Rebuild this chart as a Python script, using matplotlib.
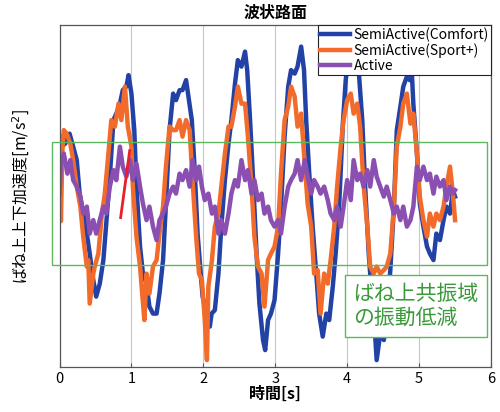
import matplotlib
matplotlib.use("Agg")
import matplotlib.pyplot as plt
from matplotlib.patches import Rectangle

plt.rcParams['font.family'] = ['Noto Sans CJK JP', 'DejaVu Sans']

# SemiActive(Comfort)
t_comfort = [0.0, 0.03, 0.08, 0.14, 0.19, 0.24, 0.28, 0.33, 0.38, 0.42, 0.47, 0.51, 0.56, 0.61, 0.65,
             0.70, 0.75, 0.79, 0.84, 0.88, 0.93, 0.96, 1.0, 1.04, 1.07, 1.12, 1.16, 1.21, 1.25, 1.30,
             1.35, 1.39, 1.44, 1.48, 1.53, 1.58, 1.62, 1.67, 1.71, 1.76, 1.80, 1.84, 1.88, 1.92, 1.96,
             1.99, 2.02, 2.07, 2.09, 2.115, 2.16, 2.21, 2.25, 2.30, 2.35, 2.39, 2.44, 2.48, 2.53, 2.58,
             2.61, 2.65, 2.69, 2.74, 2.78, 2.83, 2.86, 2.90, 2.94, 2.99, 3.04, 3.08, 3.13, 3.18, 3.22,
             3.27, 3.31, 3.36, 3.40, 3.43, 3.47, 3.52, 3.57, 3.61, 3.66, 3.71, 3.75, 3.80, 3.84, 3.89,
             3.94, 3.98, 4.02, 4.07, 4.12, 4.16, 4.21, 4.25, 4.30, 4.35, 4.39, 4.41, 4.46, 4.51, 4.55,
             4.60, 4.65, 4.69, 4.74, 4.78, 4.83, 4.87, 4.90, 4.92, 4.97, 5.01, 5.06, 5.11, 5.15, 5.20,
             5.24, 5.29, 5.34, 5.38, 5.43, 5.47, 5.50]
comfort = [0.65, 0.99, 1.05, 1.25, 0.99, 0.72, 0.05, -0.35, -0.75, -1.15, -1.68, -2.01, -1.75, -1.28, -0.55,
           0.39, 1.52, 1.65, 1.85, 2.12, 2.19, 2.42, 2.05, 1.32, 0.19, -1.01, -1.55, -1.75, -2.21, -2.35,
           -2.35, -1.95, -1.28, -0.15, 1.32, 2.05, 1.92, 2.12, 2.12, 2.32, 1.92, 1.52, 0.52, -0.75, -1.48,
           -2.01, -2.2, -2.5, -2.61, -2.35, -2.28, -1.55, -0.61, 0.32, 1.05, 1.52, 2.25, 2.72, 2.59, 2.89,
           2.52, 1.52, 0.39, -1.15, -2.15, -2.88, -3.08, -2.48, -2.35, -2.08, -1.15, -0.21, 1.19, 2.19, 2.52,
           2.45, 2.59, 2.99, 2.52, 1.52, 0.52, -0.61, -1.55, -2.35, -2.81, -2.35, -2.48, -1.81, -1.15, -0.15,
           1.45, 2.32, 2.85, 3.1, 2.8, 2.52, 1.52, 0.19, -1.15, -2.15, -2.81, -3.28, -2.75, -2.88, -2.35,
           -1.48, -0.21, 1.32, 1.79, 2.19, 2.39, 2.32, 2.45, 1.85, 0.85, -0.15, -0.61, -1.01, -1.15, -1.28,
           -0.75, -0.88, -0.48, -0.21, -0.35, 0.12, -0.01]

# SemiActive(Sport+)
t_sport = [0.0, 0.02, 0.04, 0.06, 0.10, 0.15, 0.19, 0.24, 0.29, 0.33, 0.38, 0.40, 0.42, 0.47, 0.49,
           0.54, 0.59, 0.63, 0.68, 0.72, 0.77, 0.82, 0.86, 0.91, 0.95, 1.0, 1.02, 1.07, 1.12, 1.15,
           1.18, 1.21, 1.25, 1.30, 1.35, 1.39, 1.44, 1.48, 1.53, 1.58, 1.62, 1.67, 1.71, 1.76, 1.81,
           1.85, 1.90, 1.94, 1.98, 2.02, 2.05, 2.07, 2.12, 2.16, 2.21, 2.25, 2.30, 2.35, 2.39, 2.44,
           2.48, 2.53, 2.58, 2.62, 2.67, 2.71, 2.76, 2.81, 2.85, 2.90, 2.94, 2.99, 3.04, 3.08, 3.13,
           3.18, 3.22, 3.27, 3.31, 3.36, 3.41, 3.45, 3.50, 3.54, 3.59, 3.63, 3.68, 3.73, 3.77, 3.82,
           3.86, 3.91, 3.95, 4.0, 4.05, 4.09, 4.14, 4.18, 4.23, 4.28, 4.32, 4.37, 4.41, 4.46, 4.51,
           4.55, 4.60, 4.65, 4.69, 4.74, 4.78, 4.83, 4.88, 4.92, 4.97, 5.01, 5.06, 5.11, 5.15, 5.20,
           5.24, 5.29, 5.34, 5.38, 5.43, 5.47, 5.50]
sport = [1.2, -0.5, 0.9, 1.32, 1.25, 1.05, 0.72, 0.19, -0.21, -0.81, -1.41, -1.28, -2.15, -1.55, -1.41,
         -1.15, -0.35, 0.05, 0.85, 1.52, 1.39, 1.85, 1.52, 2.19, 1.39, 0.99, 0.19, -0.81, -1.41, -1.95,
         -2.48, -1.55, -1.95, -1.41, -1.28, -0.75, -0.21, 0.59, 1.39, 1.32, 1.32, 1.52, 1.19, 1.52, 1.32,
         0.32, -0.81, -1.55, -1.68, -2.48, -3.28, -1.81, -1.28, -0.61, -0.35, 0.19, 0.85, 1.39, 1.39, 1.79,
         2.19, 1.85, 1.85, 1.19, 0.19, -0.81, -1.41, -1.55, -2.21, -1.28, -1.15, -1.01, -0.61, 0.45, 1.52,
         1.79, 2.19, 1.99, 1.39, 1.65, 0.65, -0.15, -0.61, -1.55, -1.48, -2.35, -1.55, -1.75, -1.28, -0.61,
         0.19, 0.99, 1.52, 1.92, 2.05, 1.65, 1.85, 1.39, 0.19, -0.61, -1.41, -1.55, -1.41, -1.55, -1.48,
         -1.41, -1.15, -0.21, 0.99, 1.39, 1.85, 2.05, 1.45, 1.65, 0.85, -0.01, -0.48, -0.81, -0.35, -0.61,
         -0.35, -0.48, -0.21, 0.19, 0.59, 0.05, -0.48]

# Active
t_active = [0.0, 0.02, 0.06, 0.11, 0.15, 0.19, 0.24, 0.29, 0.33, 0.38, 0.42, 0.47, 0.51, 0.56, 0.61,
            0.65, 0.70, 0.75, 0.79, 0.84, 0.88, 0.93, 0.98, 1.02, 1.07, 1.12, 1.16, 1.21, 1.25, 1.30,
            1.35, 1.39, 1.44, 1.48, 1.53, 1.58, 1.62, 1.67, 1.71, 1.76, 1.81, 1.85, 1.90, 1.94, 1.98,
            2.02, 2.07, 2.12, 2.16, 2.21, 2.25, 2.30, 2.35, 2.39, 2.44, 2.48, 2.53, 2.58, 2.62, 2.67,
            2.71, 2.76, 2.81, 2.85, 2.90, 2.94, 2.99, 3.04, 3.08, 3.13, 3.18, 3.22, 3.27, 3.31, 3.36,
            3.41, 3.45, 3.50, 3.54, 3.59, 3.63, 3.68, 3.73, 3.77, 3.82, 3.86, 3.91, 3.95, 4.0, 4.05,
            4.09, 4.14, 4.18, 4.23, 4.28, 4.32, 4.37, 4.41, 4.46, 4.51, 4.55, 4.60, 4.65, 4.69, 4.74,
            4.78, 4.83, 4.88, 4.92, 4.97, 5.01, 5.06, 5.11, 5.15, 5.20, 5.24, 5.29, 5.34, 5.38, 5.43,
            5.47, 5.50]
active = [0.05, 0.65, 0.85, 0.45, 0.72, 0.32, 0.19, -0.01, -0.35, -0.21, -0.75, -0.48, -0.75, -0.48, -0.21,
          -0.35, 0.19, 0.52, 0.32, 0.99, 0.59, 0.39, 0.72, 0.32, 0.65, 0.19, -0.15, -0.48, -0.21, -0.61,
          -0.88, -0.48, -0.35, -0.21, 0.05, 0.19, 0.05, 0.45, 0.32, 0.52, 0.19, 0.72, 0.32, 0.59, 0.19,
          -0.08, 0.05, -0.35, -0.21, -0.75, -0.48, -0.75, -0.35, 0.05, 0.32, 0.19, 0.72, 0.32, 0.52, 0.05,
          0.32, -0.08, 0.05, -0.35, -0.21, -0.48, -0.61, -0.48, -0.75, -0.21, 0.19, 0.32, 0.45, 0.72, 0.32,
          0.72, 0.39, 0.05, 0.32, 0.19, 0.05, 0.19, -0.08, -0.35, -0.48, -0.21, -0.61, -0.21, 0.32, -0.08,
          0.72, 0.32, 0.45, 0.19, 0.52, 0.19, 0.72, 0.39, 0.19, -0.01, 0.19, -0.08, -0.35, -0.21, -0.48,
          -0.21, -0.61, -0.48, -0.21, 0.59, 0.32, 0.59, 0.32, 0.45, 0.05, 0.39, 0.19, 0.32, -0.08, 0.19,
          0.05, 0.12]

# red marker segment
t_red = [0.85, 0.976]
red = [-0.43, 0.91]

# green "reduced" band
band_t = (-0.10, 5.95)
band_v = (-1.38, 1.08)

fig = plt.figure(figsize=(5.0, 4.12), dpi=100)
ax = fig.add_axes([0.119, 0.109, 0.863, 0.830])

ax.plot(t_comfort, comfort, color='#2342a6', lw=3.2, label='SemiActive(Comfort)')
ax.plot(t_sport, sport, color='#f26b2a', lw=3.2, label='SemiActive(Sport+)')
ax.plot(t_active, active, color='#8a4fb0', lw=3.2, label='Active')
ax.plot(t_red, red, color='#e8202a', lw=2.0)

ax.add_patch(Rectangle((band_t[0], band_v[0]), band_t[1] - band_t[0], band_v[1] - band_v[0],
                       fill=False, edgecolor='#5cb85c', lw=1.0, clip_on=False, zorder=5))

ax.set_xlim(0, 6)
ax.set_ylim(-3.42, 3.42)
ax.set_xticks([0, 1, 2, 3, 4, 5, 6])
ax.set_yticks([])
ax.tick_params(axis='x', direction='in', length=3, labelsize=10.5, color='#555555')
ax.xaxis.grid(True, color='#c8c8c8', lw=0.8)
for s in ax.spines.values():
    s.set_color('#555555')
    s.set_linewidth(0.9)

ax.set_title('波状路面', fontsize=11.5, fontweight='bold', pad=5)
ax.set_xlabel('時間[s]', fontsize=11.5, fontweight='bold', labelpad=0)
ax.set_ylabel('ばね上上下加速度[m/s$^2$]', fontsize=11.5, labelpad=20)

leg = ax.legend(loc='upper right', fontsize=10, handlelength=2.2, handletextpad=0.25,
                borderpad=0.15, labelspacing=0.1, borderaxespad=0.0, fancybox=False,
                framealpha=1)
leg.get_frame().set_edgecolor('#222222')
leg.get_frame().set_linewidth(0.8)

ax.text(0.68, 0.246, 'ばね上共振域\nの振動低減', transform=ax.transAxes, fontsize=15,
        color='#3a9a3a', ha='left', va='top', linespacing=1.1, zorder=6,
        bbox=dict(boxstyle='square,pad=0.4', facecolor='white', edgecolor='#5cb85c', lw=1.0))

fig.savefig('out.png', dpi=100)
